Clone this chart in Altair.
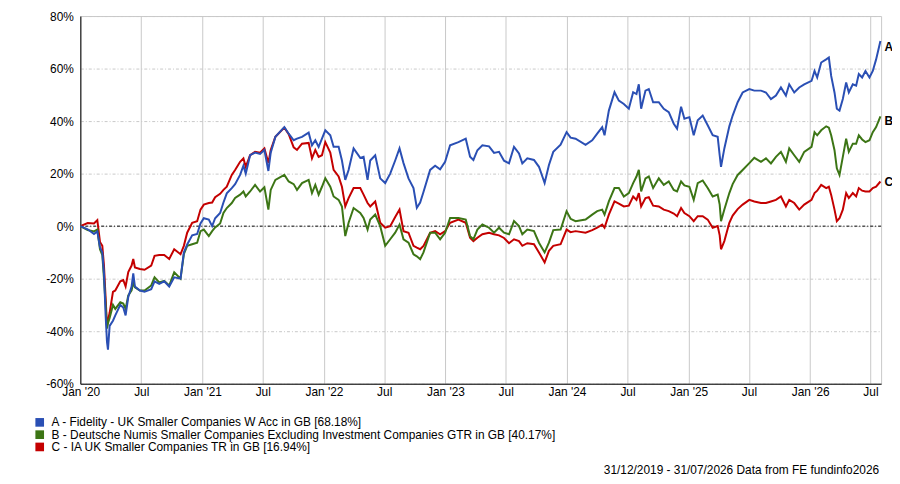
import altair as alt
import pandas as pd

# ---------------- data ----------------
dates = [
    "2019-12-31", "2020-01-22", "2020-02-10", "2020-02-20", "2020-02-28", "2020-03-06", "2020-03-11",
    "2020-03-16", "2020-03-20", "2020-03-23", "2020-03-28", "2020-04-07", "2020-04-14", "2020-04-29",
    "2020-05-08", "2020-05-15", "2020-05-23", "2020-06-02", "2020-06-07", "2020-06-12", "2020-06-27",
    "2020-07-11", "2020-07-31", "2020-08-10", "2020-08-24", "2020-09-08", "2020-09-23", "2020-10-08",
    "2020-10-27", "2020-11-06", "2020-11-16", "2020-12-01", "2020-12-16", "2020-12-26",
    "2021-01-05", "2021-01-20", "2021-01-30", "2021-02-08", "2021-02-23", "2021-03-05", "2021-03-15",
    "2021-03-30", "2021-04-09", "2021-04-24", "2021-05-04", "2021-05-11", "2021-05-24", "2021-06-08",
    "2021-06-23", "2021-07-06", "2021-07-18", "2021-07-25",
    "2021-08-08", "2021-09-04", "2021-09-17", "2021-10-02", "2021-10-12", "2021-10-27", "2021-11-16",
    "2021-11-26", "2021-12-06", "2021-12-16", "2021-12-26",
    "2022-01-05", "2022-01-20", "2022-01-30", "2022-02-14", "2022-02-24", "2022-03-06", "2022-03-16",
    "2022-03-31", "2022-04-20", "2022-04-30", "2022-05-12", "2022-05-20", "2022-06-04", "2022-06-19",
    "2022-07-04", "2022-07-19", "2022-08-03", "2022-08-16", "2022-08-28", "2022-09-12", "2022-09-27",
    "2022-10-07", "2022-10-17", "2022-10-27", "2022-11-16", "2022-12-01", "2022-12-16", "2022-12-31",
    "2023-01-15", "2023-02-09", "2023-03-03", "2023-03-16", "2023-03-26", "2023-04-07", "2023-04-22",
    "2023-05-12", "2023-05-27", "2023-06-11", "2023-06-26", "2023-07-11", "2023-07-26", "2023-08-10",
    "2023-08-20", "2023-09-04", "2023-09-24", "2023-10-09", "2023-10-26", "2023-11-08", "2023-11-21",
    "2023-12-13", "2023-12-31",
    "2024-01-12", "2024-01-27", "2024-02-26", "2024-03-17", "2024-04-01", "2024-04-16", "2024-04-23",
    "2024-05-06", "2024-05-23", "2024-06-05", "2024-06-20", "2024-07-05", "2024-07-18", "2024-07-28",
    "2024-08-04", "2024-08-11", "2024-08-24", "2024-09-03", "2024-09-16", "2024-10-03", "2024-10-18",
    "2024-11-02", "2024-11-17", "2024-11-27", "2024-12-09", "2024-12-19",
    "2025-01-03", "2025-01-16", "2025-01-28", "2025-02-12", "2025-02-27", "2025-03-14", "2025-03-29",
    "2025-04-04", "2025-04-08", "2025-04-18", "2025-05-03", "2025-05-13", "2025-05-28", "2025-06-12",
    "2025-07-02", "2025-07-17", "2025-08-06", "2025-08-21", "2025-09-05", "2025-09-20", "2025-10-05",
    "2025-10-20", "2025-10-30", "2025-11-14", "2025-11-29", "2025-12-14",
    "2026-01-05", "2026-01-14", "2026-01-22", "2026-02-03", "2026-02-18", "2026-02-26", "2026-03-05",
    "2026-03-15", "2026-03-22", "2026-03-30", "2026-04-09", "2026-04-19", "2026-04-27", "2026-05-09",
    "2026-05-19", "2026-05-27", "2026-06-06", "2026-06-16", "2026-06-28", "2026-07-08", "2026-07-18",
    "2026-07-31",
]

fund_a = [
    0, -1.2, -3, -2, -8, -10, -18, -34, -44, -47, -38, -36, -34, -30, -31, -34, -27, -23, -18, -23,
    -24.5, -25, -24, -21, -22, -21, -23, -19.5, -20, -10, -7, -3.5, -3, 1,
    3, 2.5, 0, 3, 5, 9, 12.5, 14.5, 16, 19.5, 23, 20, 27, 28, 27.5, 29, 21, 28,
    34, 37.7, 35.2, 32.7, 33.3, 34, 35.6, 30.8, 32.7, 30.2, 33.3,
    36.5, 34.6, 30.2, 30.2, 25, 17.6, 21.4, 29.6, 26, 26.4, 17.6, 25, 27, 18.2, 16.4, 20, 25, 29.6,
    24, 18.2, 14.5, 7, 9, 13, 21.4, 23, 21.6, 24.5,
    30.8, 32, 33.3, 26.4, 25.2, 28.9, 30.8, 30.4, 27.9, 28.3, 24.9, 23.9, 30.2, 27.7, 23.9, 25.8,
    25.2, 22.6, 16.4, 23.3, 28.3, 31, 35.8,
    33.7, 33.3, 31, 32.7, 35.2, 37.7, 34.6, 44, 51, 47.8, 46.5, 44.7, 51, 50.3, 54, 44.7, 51.6, 52.2,
    47.2, 47.2, 44.7, 43.4, 39, 37.1, 45.5, 40.9,
    41.5, 34.6, 40.3, 42.1, 38.4, 34.6, 34, 27, 22.6, 29.6, 38, 42.1, 47.2, 50.9, 52.2, 51.6, 51.6,
    50.9, 48.4, 49.7, 52.8, 49.7, 54, 50.9, 52.8, 54,
    55.3, 59.1, 56.6, 62.3, 63.5, 64.2, 57.2, 50.9, 44.7, 44, 48.4, 54.7, 50.9, 54, 53.5, 57.9, 56.6,
    59.1, 56.6, 59.1, 63.5, 70.5,
]

index_b = [
    0, -1.5, -2, -1.3, -8.8, -11, -20, -30, -39, -37, -35, -30, -31.5, -29, -29.5, -31.5, -26.4, -24.5,
    -21.4, -23.3, -24.5, -24.5, -22.6, -19.5, -21.4, -20.8, -22.6, -17.6, -20, -10.7, -7.5, -6.9, -6.3, -1.9,
    -1.3, -3.8, -1.9, -0.5, 1, 5, 6.9, 8.8, 10.7, 12, 13.2, 11.3, 13.2, 15.7, 13.2, 14.8, 6.3, 13.8,
    17.6, 19.5, 17, 16, 13.8, 16.4, 17.6, 12.6, 15.7, 12, 15,
    18.2, 15, 11.3, 10, 7.5, -3.8, 1.3, 6.9, 5, 3.1, -1.3, 2.5, 4.4, 0, -7.5, -5, -2.5, 0.6, -5, -6.3,
    -10.7, -11.5, -12.6, -10, -2.5, -2.5, -5, -2.5,
    3.1, 3.1, 2.5, -3.8, -5, -1.3, 0.6, -0.6, -2.5, -0.6, -2.5, -3.1, 1.9, 0, -3.1, -1.3, -1.9, -6.3,
    -10, -6.3, -1.5, -1.3, 5.7,
    2.8, 1.9, 2.5, 4.4, 5.7, 6.3, 4.4, 9.4, 14.5, 14.5, 11.3, 12.6, 16.4, 18.9, 21.4, 13.2, 18.2, 18.9,
    14.5, 18.2, 15.7, 17, 13.8, 13.2, 17, 15.5,
    15, 10, 16.4, 17.4, 14.5, 11.3, 12, 8.2, 1.9, 6.3, 12.6, 16, 19.5, 21.4, 24, 26, 24.5, 25.8, 23.9,
    26.4, 28.3, 24.5, 29.6, 27, 24.5, 28.3,
    30.2, 35.8, 34.6, 36.5, 38, 37.5, 34.6, 28.9, 22, 19.5, 26.4, 33.3, 28.3, 31.4, 31.4, 34.6, 33, 32,
    32.7, 35.8, 37.7, 41.8,
]

sector_c = [
    0, 1.2, 1, 2.3, -6, -7.5, -15, -27.5, -38, -36, -33, -25, -24.5, -21, -20.5, -23, -17.5, -15, -12.5,
    -15.7, -16.3, -16.6, -15, -11.3, -11, -11, -12.5, -8.8, -10.7, -7.5, -2.5, 1.3, 1.9, 6.3,
    8.2, 8.8, 9, 11, 12.3, 13.8, 15, 19.5, 21.4, 24.5, 25.8, 22.6, 27, 28.3, 28, 29.6, 24, 29,
    34, 37.5, 35, 30, 29, 31.4, 31.7, 25.8, 29, 26.4, 27,
    32, 28, 21.4, 18.9, 15, 7.5, 10.7, 14.5, 14.5, 12, 8.8, 7.5, 9.4, 1.3, -0.6, 0, 3.5, 6.3, -1.9,
    -2.5, -7.5, -8.2, -8.8, -7.5, -2.5, -1.9, -3.1, -1.9,
    1.3, 2.5, 1.3, -4.4, -5.7, -4.4, -3.1, -2.5, -3.1, -3.5, -4.5, -6.5, -5, -5.7, -7.5, -6.5, -6.9,
    -10, -13.8, -9.4, -7.5, -6.9, -1.3,
    -2.3, -1.9, -2.5, -1.5, -0.6, 0.6, -0.6, 4.4, 9.4, 8.6, 7.5, 7.8, 11.3, 10, 12.6, 7.5, 10.7, 11,
    7.8, 7.5, 6.3, 5.7, 4.8, 3.8, 6.9, 5,
    3.8, 1.9, 3.8, 3.8, 2.5, -0.6, 0, -3.5, -8.8, -5.7, 1.3, 4, 6.5, 8.2, 10, 9.4, 8.8, 8.8, 9.4, 10,
    11.3, 7.5, 10, 8.8, 6.3, 8.2,
    10, 12.6, 13.5, 15.7, 14.5, 15, 11.9, 6.3, 1.9, 3, 6.3, 12.6, 10.7, 12.6, 11.3, 14.5, 13.5, 13.2,
    13.2, 14.5, 15, 17,
]

series_names = [
    "A - Fidelity - UK Smaller Companies W Acc in GB [68.18%]",
    "B - Deutsche Numis Smaller Companies Excluding Investment Companies GTR in GB [40.17%]",
    "C - IA UK Smaller Companies TR in GB [16.94%]",
]
series_colors = ["#2a4fb4", "#3c7515", "#c40000"]
end_letters = ["A", "B", "C"]
end_values = [68.18, 40.17, 16.94]
footer_text = "31/12/2019 - 31/07/2026 Data from FE fundinfo2026"
y_ticks = [-60, -40, -20, 0, 20, 40, 60, 80]

assert len(dates) == len(fund_a) == len(index_b) == len(sector_c)

# ---------------- tables ----------------
frames = []
for name, vals in zip(series_names, [fund_a, index_b, sector_c]):
    frames.append(pd.DataFrame({"date": dates, "value": vals, "series": name}))
df = pd.concat(frames, ignore_index=True)

ends = pd.DataFrame({"letter": end_letters, "value": end_values, "date": [dates[-1]] * 3,
                     "series": series_names})
zero_df = pd.DataFrame({"y": [0]})
foot_df = pd.DataFrame({"t": [footer_text]})

FONT = "Liberation Sans"

x_ticks = []
for yr in range(2020, 2027):
    x_ticks.append(alt.DateTime(year=yr, month=1, date=1))
    x_ticks.append(alt.DateTime(year=yr, month=7, date=1))

x_enc = alt.X(
    "date:T",
    scale=alt.Scale(domain=[alt.DateTime(year=2019, month=12, date=31),
                            alt.DateTime(year=2026, month=8, date=2)]),
    axis=alt.Axis(
        values=x_ticks,
        labelExpr="month(datum.value) == 0 ? \"Jan '\" + timeFormat(datum.value, '%y') : 'Jul'",
        grid=True, gridColor="#c8c8c8", gridWidth=1,
        ticks=False, domainColor="#000000", domainWidth=1,
        labelPadding=3, labelFontSize=12, labelFont=FONT, labelColor="#000000",
        labelFlush=False, labelOverlap=False, title=None,
    ),
)
y_scale = alt.Scale(domain=[-60, 80], nice=False, zero=False)
y_enc = alt.Y(
    "value:Q",
    scale=y_scale,
    axis=alt.Axis(
        values=y_ticks,
        labelExpr="datum.value + '%'",
        grid=True, gridColor="#c8c8c8", gridDash=[3, 2, 1, 2], gridWidth=1,
        ticks=False, domainColor="#000000", domainWidth=1,
        labelPadding=7, labelFontSize=12, labelFont=FONT, labelColor="#000000",
        title=None,
    ),
)

zero_rule = alt.Chart(zero_df).mark_rule(color="#000000", strokeDash=[3, 2, 1, 2], strokeWidth=1).encode(
    y=alt.Y("y:Q", scale=y_scale)
)

# one line layer per series (C first, A drawn on top)
lines = []
for name, col in reversed(list(zip(series_names, series_colors))):
    lines.append(
        alt.Chart(df).transform_filter(alt.datum.series == name)
        .mark_line(strokeWidth=2, interpolate="linear", color=col)
        .encode(x=x_enc, y=y_enc)
    )

# legend layer: zero-size squares at the series end points, supplying a filled-square legend
legend_layer = alt.Chart(ends).mark_square(filled=True, size=0).encode(
    x="date:T", y=alt.Y("value:Q", scale=y_scale),
    color=alt.Color(
        "series:N",
        scale=alt.Scale(domain=series_names, range=series_colors),
        legend=alt.Legend(
            title=None, orient="none", legendX=-47, legendY=404,
            symbolType="square", symbolSize=76, symbolStrokeWidth=0, symbolOpacity=1,
            labelFontSize=12, labelFont=FONT, labelColor="#000000", labelOffset=6,
            rowPadding=0.4, padding=0, labelLimit=800,
        ),
    ),
)

labels = alt.Chart(ends).mark_text(
    align="left", baseline="middle", dx=4, fontSize=12, fontWeight="bold", font=FONT, color="#000000"
).encode(x="date:T", y=alt.Y("value:Q", scale=y_scale), text="letter:N")

footer = alt.Chart(foot_df).mark_text(
    align="right", baseline="alphabetic", fontSize=12, font=FONT, color="#000000"
).encode(x=alt.value(806), y=alt.value(462), text="t:N")

chart = alt.layer(zero_rule, *lines, legend_layer, labels, footer).properties(
    width=808, height=371,
    autosize=alt.AutoSizeParams(type="none"),
    padding={"left": 73, "top": 6, "right": 11, "bottom": 91},
    background="#ffffff",
).configure_view(stroke="#c8c8c8", strokeWidth=1)

chart.save("out.html", embed_options={"renderer": "svg", "actions": False})
